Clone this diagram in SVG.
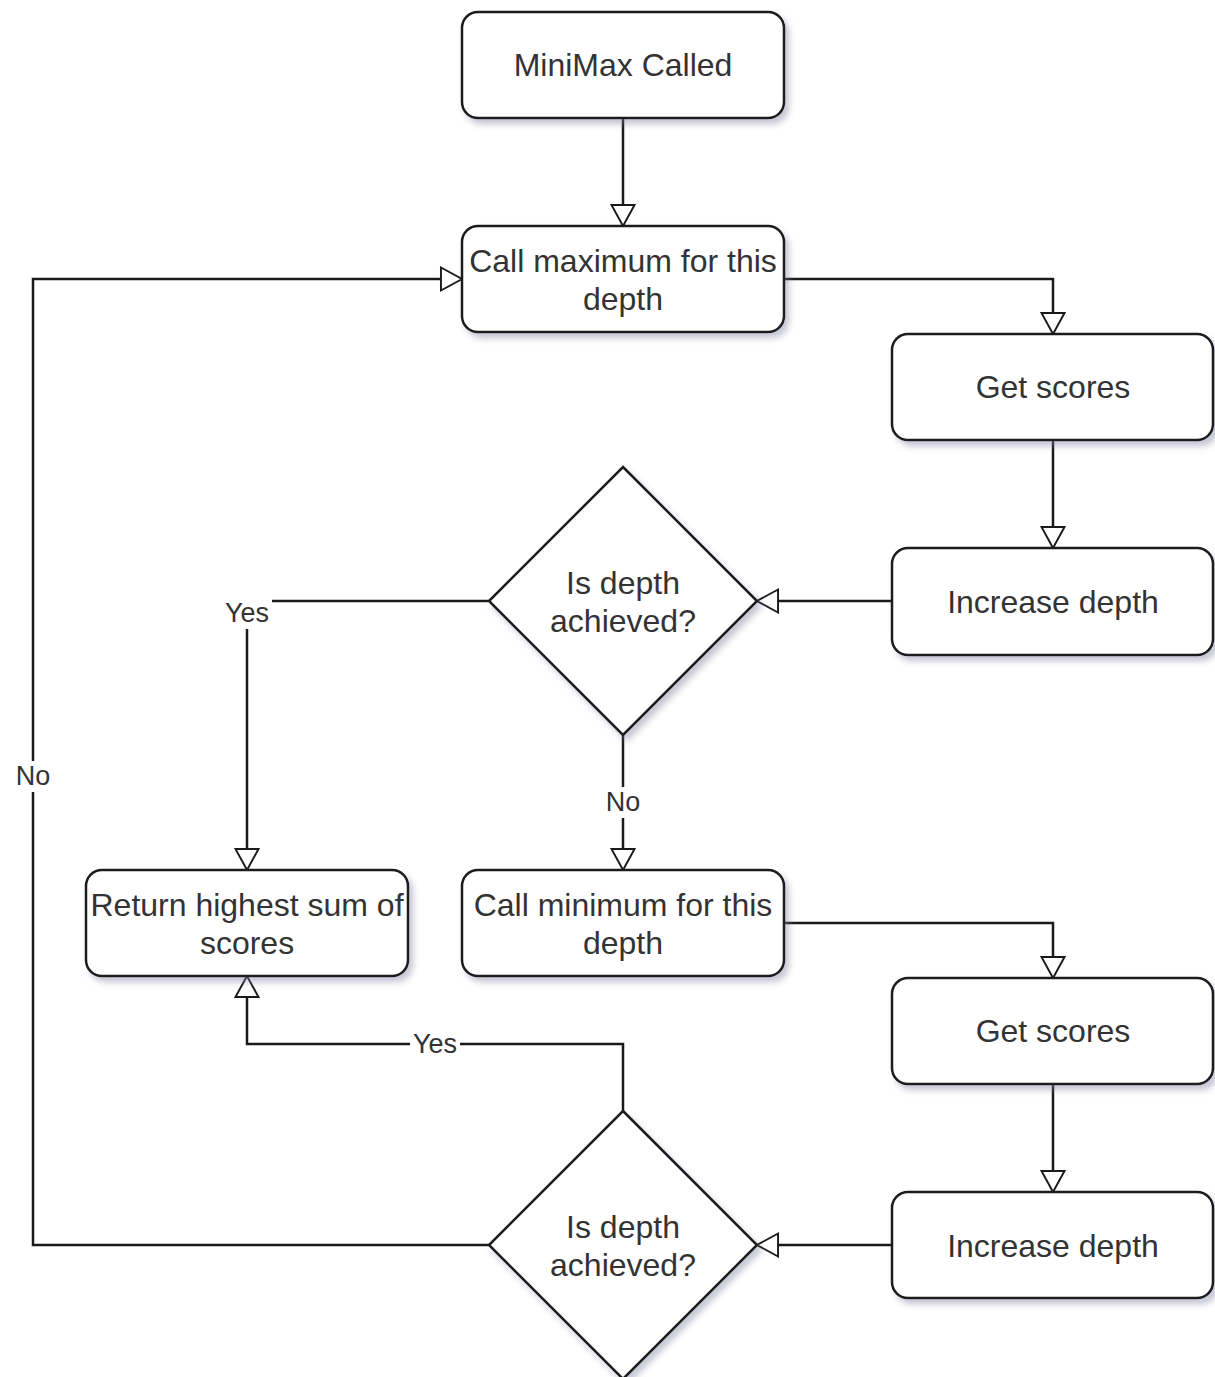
<svg xmlns="http://www.w3.org/2000/svg" width="1215" height="1377" viewBox="0 0 1215 1377">
<style>
.n{fill:#fff;stroke:#1a1a1a;stroke-width:2.5;filter:url(#sh)}
.t{font-family:"Liberation Sans",Arial,sans-serif;font-size:32px;fill:#333;text-anchor:middle}
.e{fill:none;stroke:#1a1a1a;stroke-width:2.5;marker-end:url(#ar)}
.lb{fill:#fff}
.l{font-family:"Liberation Sans",Arial,sans-serif;font-size:27px;fill:#333;text-anchor:middle}
</style>
<defs>
<filter id="sh" x="-10%" y="-10%" width="130%" height="140%">
<feDropShadow dx="4" dy="5" stdDeviation="3" flood-color="#8080a0" flood-opacity="0.45"/>
</filter>
<marker id="ar" viewBox="0 0 12 12" refX="11" refY="6" markerWidth="10" markerHeight="10" markerUnits="userSpaceOnUse" orient="auto" overflow="visible">
<path d="M0,0 L11,6 L0,12 Z" transform="scale(2.3) translate(-6.2,-3.4)" fill="#fff" stroke="#1a1a1a" stroke-width="1"/>
</marker>
</defs>
<rect width="1215" height="1377" fill="#fff"/>
<g id="connectors">
<path class="e" d="M623,118 V226"/>
<path class="e" d="M784,279 H1053 V334"/>
<path class="e" d="M1053,440 V548"/>
<path class="e" d="M892,601 H757"/>
<path class="e" d="M489,601 H247 V870"/>
<path class="e" d="M623,735 V870"/>
<path class="e" d="M784,923 H1053 V978"/>
<path class="e" d="M1053,1084 V1192"/>
<path class="e" d="M892,1245 H757"/>
<path class="e" d="M623,1111 V1044 H247 V976"/>
<path class="e" d="M489,1245 H33 V279 H462"/>
<g id="labels">
<rect class="lb" x="222" y="598" width="50" height="31"/>
<text class="l" x="247" y="622">Yes</text>
<rect class="lb" x="603" y="787" width="40" height="31"/>
<text class="l" x="623" y="811">No</text>
<rect class="lb" x="410" y="1030" width="50" height="31"/>
<text class="l" x="435" y="1053">Yes</text>
<rect class="lb" x="13" y="761" width="40" height="31"/>
<text class="l" x="33" y="785">No</text>
</g>
</g>
<g id="minimax"><rect class="n" x="462" y="12" width="322" height="106" rx="16"/><text class="t" x="623" y="76">MiniMax Called</text></g>
<g id="callmax"><rect class="n" x="462" y="226" width="322" height="106" rx="16"/><text class="t" x="623" y="272">Call maximum for this</text><text class="t" x="623" y="310">depth</text></g>
<g id="getscores1"><rect class="n" x="892" y="334" width="321" height="106" rx="16"/><text class="t" x="1053" y="398">Get scores</text></g>
<g id="increase1"><rect class="n" x="892" y="548" width="321" height="107" rx="16"/><text class="t" x="1053" y="613">Increase depth</text></g>
<g id="decision1"><path class="n" d="M623,467 L757,601 L623,735 L489,601 Z"/><text class="t" x="623" y="594">Is depth</text><text class="t" x="623" y="632">achieved?</text></g>
<g id="returnhighest"><rect class="n" x="86" y="870" width="322" height="106" rx="16"/><text class="t" x="247" y="916">Return highest sum of</text><text class="t" x="247" y="954">scores</text></g>
<g id="callmin"><rect class="n" x="462" y="870" width="322" height="106" rx="16"/><text class="t" x="623" y="916">Call minimum for this</text><text class="t" x="623" y="954">depth</text></g>
<g id="getscores2"><rect class="n" x="892" y="978" width="321" height="106" rx="16"/><text class="t" x="1053" y="1042">Get scores</text></g>
<g id="increase2"><rect class="n" x="892" y="1192" width="321" height="106" rx="16"/><text class="t" x="1053" y="1257">Increase depth</text></g>
<g id="decision2"><path class="n" d="M623,1111 L757,1245 L623,1379 L489,1245 Z"/><text class="t" x="623" y="1238">Is depth</text><text class="t" x="623" y="1276">achieved?</text></g>
</svg>
